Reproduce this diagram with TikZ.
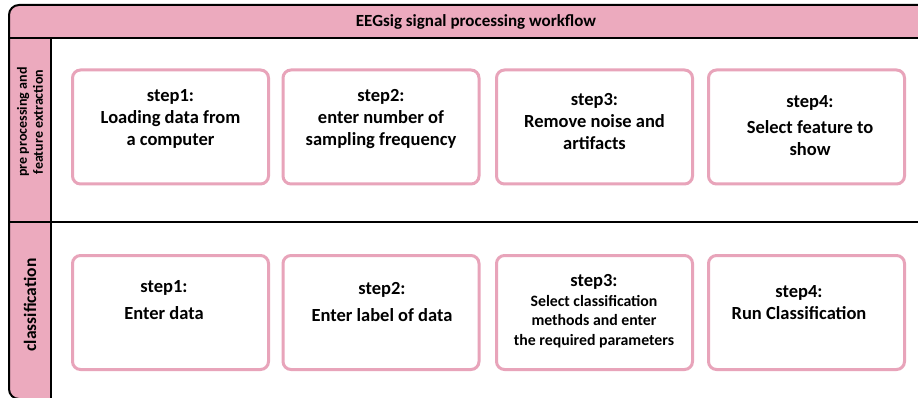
\documentclass[tikz,border=0pt]{standalone}
\usepackage{fontspec}
\setmainfont{Carlito}
\definecolor{lanepink}{RGB}{236,170,190}
\definecolor{boxpink}{RGB}{232,164,186}
\begin{document}
\begin{tikzpicture}[x=1pt,y=-1pt,
    stepbox/.style={draw=boxpink,line width=3pt,rounded corners=8pt,fill=white,
      minimum width=196pt,minimum height=114pt,inner sep=0pt},
    steptext/.style={align=center,font=\bfseries\fontsize{18.5}{22}\selectfont},
    smalltext/.style={align=center,font=\bfseries\fontsize{15.8}{19.5}\selectfont},
    lanetext/.style={align=center,rotate=90,font=\bfseries\fontsize{14}{16}\selectfont}]
  \useasboundingbox (0,0) rectangle (918,398);
  \clip (0,0) rectangle (918,398);
  % frame and lanes
  \fill[lanepink,rounded corners=10pt] (9,5) rectangle (940,399);
  \fill[white] (51,38) rectangle (940,420);
  \draw[line width=2pt,rounded corners=10pt] (9,5) rectangle (940,399);
  \draw[line width=2pt] (9,38) -- (940,38) (9,222) -- (940,222) (51,38) -- (51,420);
  \node[font=\bfseries\fontsize{17}{19}\selectfont] (title) at (476,22) {EEGsig signal processing workflow};
  \node[lanetext] (prelane) at (30,122) {pre processing and\\feature extraction};
  \node[lanetext,font=\bfseries\fontsize{17.5}{20}\selectfont] (classlane) at (30,305) {classification};
  % pre processing steps
  \node[stepbox] (pre1) at (170.5,127) {};
  \node[stepbox] (pre2) at (381,127) {};
  \node[stepbox] (pre3) at (594.5,127) {};
  \node[stepbox] (pre4) at (806.5,127) {};
  \node[steptext] (pretext1) at (170.5,118.5) {step1:\\Loading data from\\a computer};
  \node[steptext] (pretext2) at (381,119) {step2:\\enter number of\\sampling frequency};
  \node[steptext] (pretext3) at (594.5,121.5) {step3:\\Remove noise and\\artifacts};
  \node[steptext] (pretext4) at (810,125.5) {step4:\\[4pt]Select feature to\\show};
  % classification steps
  \node[stepbox] (cls1) at (170.5,312.5) {};
  \node[stepbox] (cls2) at (381,312.5) {};
  \node[stepbox] (cls3) at (594.5,312.5) {};
  \node[stepbox] (cls4) at (806.5,312.5) {};
  \node[steptext] (clstext1) at (164,300.5) {step1:\\[5pt]Enter data};
  \node[steptext] (clstext2) at (382,302) {step2:\\[5pt]Enter label of data};
  \node[smalltext] (clstext3) at (594,311) {{\fontsize{18.5}{21}\selectfont step3:}\\Select classification\\methods and enter\\the required parameters};
  \node[steptext] (clstext4) at (799,302.5) {step4:\\Run Classification};
\end{tikzpicture}
\end{document}
